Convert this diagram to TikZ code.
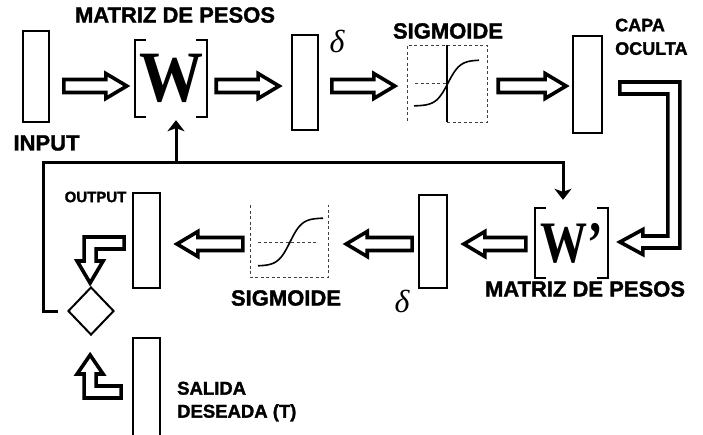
\documentclass[tikz,border=0pt]{standalone}
\usepackage{graphicx}
\usepackage{fontspec}
\setmainfont{Liberation Serif}
\newfontfamily\lsans[BoldFeatures={FakeBold=1.5}]{Liberation Sans}
\usetikzlibrary{calc,arrows.meta,shapes.geometric}
\begin{document}
\begin{tikzpicture}[x=1pt,y=-1pt,
  vbox/.style={draw, line width=1.8pt, rectangle, inner sep=0pt},
  hollowline/.style={draw, line width=3.6pt, line join=miter, miter limit=10},
  hollow/.style={hollowline, to path={let \p1=(\tikztostart), \p2=(\tikztotarget),
      \n1={(\x2-\x1)/abs(\x2-\x1)} in
      (\x1,{\y1+6.5pt}) -- ({\x2-\n1*21pt},{\y1+6.5pt}) -- ({\x2-\n1*21pt},{\y1+12.5pt})
      -- (\x2,\y1) -- ({\x2-\n1*21pt},{\y1-12.5pt}) -- ({\x2-\n1*21pt},{\y1-6.5pt})
      -- (\x1,{\y1-6.5pt}) -- cycle}},
  fb/.style={line width=3pt, -{Stealth[length=11pt,width=17pt,inset=3pt]}},
  lab/.style={font=\lsans\bfseries\fontsize{22}{22}\selectfont, inner sep=0pt},
  smalllab/.style={font=\lsans\bfseries\fontsize{18.5}{23}\selectfont, inner sep=0pt, align=left},
  deltalab/.style={font=\itshape\fontsize{32}{32}\selectfont, inner sep=0pt},
  bracket/.style={line width=2pt},
  sigframe/.style={line width=0.9pt, dash pattern=on 3pt off 2.5pt, black!75},
  sigcurve/.style={line width=1.6pt, smooth},
  plain/.style={inner sep=0pt}
]
\useasboundingbox (0,0) rectangle (703,434);
\fill[white] (0,0) rectangle (703,434);

% ---------- nodes ----------
\node[vbox, minimum width=26pt, minimum height=91pt] (in) at (36,76.5) {};
\node[plain, minimum width=72pt, minimum height=77pt] (W) at (171,78.5)
  {\fontsize{64}{64}\selectfont\bfseries\scalebox{1}[1.13]{W}};
\node[vbox, minimum width=26pt, minimum height=95pt] (d1) at (305,82.5) {};
\node[plain, minimum width=80pt, minimum height=77pt] (sig1) at (447,83.5) {};
\node[vbox, minimum width=29pt, minimum height=97pt] (hid) at (587.5,84.5) {};
\node[plain, minimum width=73pt, minimum height=70pt] (Wp) at (571.5,243)
  {\fontsize{47}{47}\selectfont\bfseries\scalebox{1}[1.25]{W'}};
\node[vbox, minimum width=28pt, minimum height=93pt] (d2) at (433,241.5) {};
\node[plain, minimum width=78pt, minimum height=72pt] (sig2) at (289,241) {};
\node[vbox, minimum width=27pt, minimum height=95pt] (out) at (146.5,240.5) {};
\node[draw, diamond, line width=2pt, inner sep=0pt, minimum width=46pt, minimum height=48pt] (dia) at (91,311) {};
\node[vbox, minimum width=27pt, minimum height=104pt] (sal) at (146.5,390) {};

% ---------- brackets ----------
\draw[bracket] ($(W.north west)+(11,0)$) -- (W.north west) -- (W.south west) -- ++(11,0);
\draw[bracket] ($(W.north east)+(-11,0)$) -- (W.north east) -- (W.south east) -- ++(-11,0);
\draw[bracket] ($(Wp.north west)+(11,0)$) -- (Wp.north west) -- (Wp.south west) -- ++(11,0);
\draw[bracket] ($(Wp.north east)+(-11,0)$) -- (Wp.north east) -- (Wp.south east) -- ++(-11,0);

% ---------- sigmoid plots ----------
\begin{scope}[shift={(sig1.center)}]
  \draw[sigframe] (0,38.5) -- (40,38.5) -- (40,-38.5) -- (-40,-38.5) -- (-40,38.5);
  \draw[line width=1.2pt] (0,-38.5) -- (0,38.5);
  \draw[sigframe] (-32,-0.5) -- (0,-0.5);
  \draw[sigcurve, domain=-34:31, samples=50, variable=\t] plot ({\t+1},{-0.5-23*tanh(\t/12)});
\end{scope}
\begin{scope}[shift={(sig2.center)}]
  \draw[sigframe] (-39,-36) -- (-39,36) -- (39,36) -- (39,-36);
  \draw[sigframe] (-31,1) -- (29,1);
  \draw[sigcurve, domain=-32:33, samples=50, variable=\t] plot ({\t+1},{1-24*tanh(\t/12)});
\end{scope}

% ---------- hollow arrows ----------
\coordinate (r1) at (0,86);
\coordinate (r2) at (0,244);
\draw[hollow] ($(in.east|-r1)+(14,0)$) to ($(W.west|-r1)+(-8,0)$);
\draw[hollow] ($(W.east|-r1)+(9,0)$) to ($(d1.west|-r1)+(-12,0)$);
\draw[hollow] ($(d1.east|-r1)+(13,0)$) to ($(sig1.west|-r1)+(-12,0)$);
\draw[hollow] ($(sig1.east|-r1)+(11,0)$) to ($(hid.west|-r1)+(-6,0)$);
\draw[hollow] ($(Wp.west|-r2)+(-9,0)$) to ($(d2.east|-r2)+(16,0)$);
\draw[hollow] ($(d2.west|-r2)+(-6,0)$) to ($(sig2.east|-r2)+(18,0)$);
\draw[hollow] ($(sig2.west|-r2)+(-7,0)$) to ($(out.east|-r2)+(16,0)$);

% L-shaped hollow arrows
\begin{scope}[shift={(hid.east)}]
  \draw[hollowline] (17,-2.5) -- (77,-2.5) -- (77,163.5) -- (40,163.5) -- (40,170)
    -- (17,157.5) -- (40,145) -- (40,151.5) -- (65,151.5) -- (65,9.5) -- (17,9.5) -- cycle;
\end{scope}
\begin{scope}[shift={(out.west)}]
  \draw[hollowline] (-8,-3.5) -- (-48,-3.5) -- (-48,20.5) -- (-55,20.5) -- (-42,42.5)
    -- (-29,20.5) -- (-36,20.5) -- (-36,8.5) -- (-8,8.5) -- cycle;
\end{scope}
\begin{scope}[shift={(sal.west)}]
  \draw[hollowline] (-11,-4) -- (-36,-4) -- (-36,-16) -- (-29,-16) -- (-42,-35)
    -- (-55,-16) -- (-48,-16) -- (-48,8) -- (-11,8) -- cycle;
\end{scope}

% ---------- feedback connectors ----------
\coordinate (fbL) at (43,162);
\coordinate (jW) at (176,162);
\draw[fb, shorten <=9pt] (dia.west) -| (fbL) -| ($(Wp.north)+(-8.5,-8)$);
\draw[fb] (jW) -- ($(W.south)+(5,3)$);

% ---------- labels ----------
\node[lab] (tm) at (175,15) {MATRIZ DE PESOS};
\node[lab] (tin) at (46.5,143) {INPUT};
\node[lab] (ts1) at (448,31) {SIGMOIDE};
\node[smalllab, font=\lsans\bfseries\fontsize{18}{23.5}\selectfont, anchor=north west] (tcapa) at (615,18.5) {CAPA\\OCULTA};
\node[deltalab] (dl1) at (337,41) {δ};
\node[lab] (tm2) at (585,289) {MATRIZ DE PESOS};
\node[deltalab] (dl2) at (402,301) {δ};
\node[lab] (ts2) at (286,298) {SIGMOIDE};
\node[lab, font=\lsans\bfseries\fontsize{15}{15}\selectfont] (tout) at (95.5,197) {OUTPUT};
\node[smalllab, anchor=north west] (tsal) at (177,381.5) {SALIDA\\DESEADA (T)};
\end{tikzpicture}
\end{document}
